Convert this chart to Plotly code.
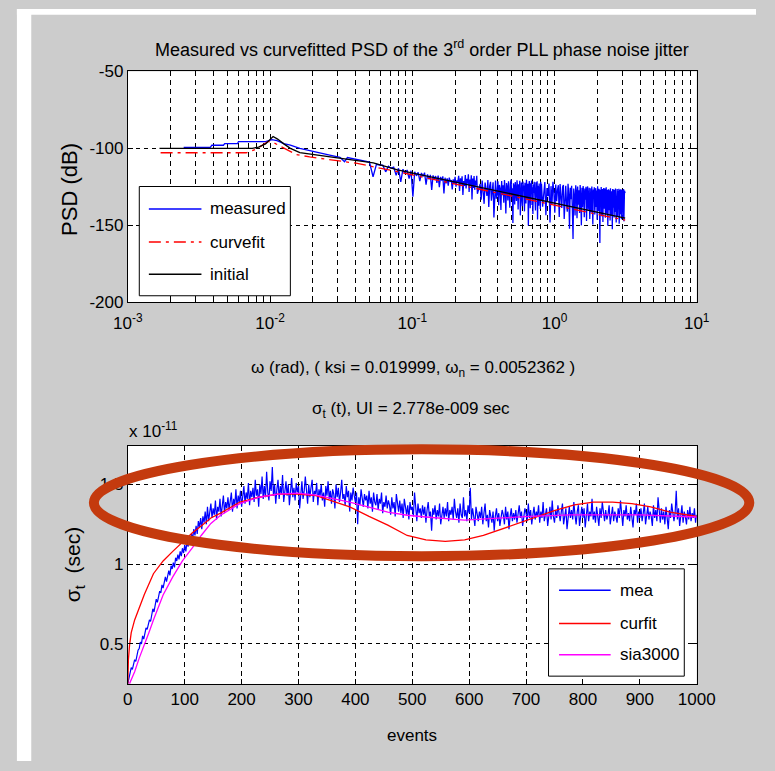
import numpy as np
import plotly.graph_objects as go

W, H = 775, 771
def X(px): return px / W
def Y(py): return 1 - py / H

FONT = "Liberation Sans, Arial, Helvetica, sans-serif"

# ---------------- top panel: PSD (dB) vs omega (rad) ----------------
w_low = [0.00247, 0.0038, 0.0039, 0.0047, 0.0048, 0.0059, 0.0060, 0.0093, 0.0103, 0.0112,
         0.0125, 0.0139, 0.0162, 0.020, 0.0258, 0.031, 0.0334, 0.035, 0.041, 0.046]
psd_low = [-99.4, -99.4, -98.0, -98.0, -97.0, -97.0, -95.6, -95.6, -94.3, -95.0,
           -97.0, -98.0, -100.0, -101.7, -104.2, -105.9, -108.7, -106.0, -107.4, -108.0]

# uniformly sampled bins: 0.050 ... 0.287 rad
w_mid_start, w_mid_step = 0.050, 0.003
psd_mid = [-108.9, -118.5, -110.4, -110.9, -111.0, -115.3, -111.6, -112.9, -112.2, -117.5,
           -113.0, -121.8, -113.6, -116.2, -114.1, -119.7, -114.6, -131.5, -115.2, -117.9,
           -115.6, -121.3, -116.0, -118.4, -115.8, -123.6, -116.9, -120.2, -117.3, -127.1,
           -117.6, -119.9, -118.0, -122.5, -117.8, -125.2, -118.6, -121.0, -118.2, -129.4,
           -119.1, -122.8, -119.5, -124.3, -119.0, -121.7, -120.6, -126.8, -120.2, -123.1,
           -118.6, -124.9, -120.8, -122.0, -117.9, -127.7, -119.5, -123.6, -118.2, -130.3,
           -121.2, -124.5, -117.4, -126.1, -119.8, -123.0, -116.9, -128.4, -120.3, -124.7,
           -117.5, -133.2, -119.6, -125.8, -118.1, -127.0, -120.9, -124.2, -117.8, -129.6]

# uniformly sampled bins: 0.300 ... 0.805 rad
w_band1_start, w_band1_step = 0.300, 0.005
psd_band1 = [-123.2, -133.5, -121.0, -128.4, -136.1, -122.3, -126.7, -131.0, -120.6, -138.2,
             -124.5, -121.8, -134.0, -127.3, -122.1, -145.0, -125.6, -120.9, -132.8, -129.1,
             -121.4, -137.0, -123.8, -126.2, -140.1, -121.2, -130.5, -124.0, -135.4, -120.7,
             -127.9, -142.3, -122.6, -125.1, -133.9, -121.5, -129.4, -138.6, -123.1, -120.4,
             -131.7, -126.0, -148.5, -122.8, -124.7, -136.5, -121.9, -128.3, -134.2, -120.8,
             -125.9, -139.8, -123.4, -130.1, -121.1, -143.6, -126.5, -122.2, -132.4, -137.7,
             -121.6, -127.1, -124.2, -141.0, -122.4, -129.8, -135.9, -120.5, -126.8, -133.0,
             -123.0, -150.2, -124.8, -121.3, -131.2, -138.9, -122.7, -127.6, -121.0, -136.8,
             -125.3, -142.7, -123.6, -129.0, -121.7, -134.7, -126.1, -140.4, -122.0, -128.6,
             -132.1, -121.4, -146.3, -124.3, -127.4, -137.3, -122.9, -130.8, -125.0, -139.5,
             -121.8, -133.6]

# uniformly sampled bins: 0.810 ... 3.135 rad
w_band2_start, w_band2_step = 0.810, 0.015
psd_band2 = [-123.1, -137.9, -129.2, -122.0, -143.5, -125.8,
             -131.0, -122.9, -148.2, -124.6, -136.3, -121.7, -128.8, -141.9, -123.5, -134.4,
             -126.9, -124.0, -144.7, -123.2, -131.6, -138.8, -125.1, -123.8, -146.0, -128.5,
             -124.4, -135.9, -141.2, -123.0, -129.7, -152.3, -125.6, -133.1, -124.3, -139.5,
             -159.0, -126.2, -130.8, -143.6, -124.1, -128.0, -145.4, -124.9, -136.7, -127.3,
             -142.0, -123.9, -131.9, -150.1, -125.7, -138.3, -124.5, -129.6, -144.8, -126.1,
             -133.4, -125.0, -147.3, -127.4, -124.8, -139.9, -131.2, -125.6, -145.9, -128.7,
             -126.0, -141.5, -124.9, -135.3, -149.6, -126.8, -130.4, -125.3, -143.0, -132.7,
             -125.9, -138.1, -127.5, -146.4, -124.7, -134.0, -140.8, -126.3, -129.1, -161.5,
             -127.0, -136.4, -125.2, -144.1, -131.7, -126.5, -147.9, -128.3, -125.8, -139.3,
             -133.5, -126.1, -145.2, -129.8, -125.4, -142.6, -137.0, -126.9, -150.4, -128.0,
             -126.6, -140.3, -131.4, -127.2, -146.9, -126.0, -135.8, -143.7, -127.9, -130.5,
             -152.6, -126.4, -138.7, -128.6, -126.8, -145.0, -132.9, -127.1, -141.4, -126.2,
             -136.1, -148.3, -127.6, -130.0, -126.5, -144.4, -133.2, -127.8, -139.7, -126.3,
             -149.1, -128.9, -134.6, -127.0, -142.8, -126.7, -131.3, -146.1, -128.1, -126.9,
             -138.4, -127.3, -144.9, -130.7, -126.4, -147.5, -135.4, -127.5, -141.1, -129.2]

w_fit = [0.0017, 0.0068, 0.0080, 0.0088, 0.0097, 0.0107, 0.0120, 0.0132, 0.0152, 0.019,
         0.0245, 0.041, 0.0787, 0.15, 0.3, 0.6, 1.2, 2.0, 3.14]
psd_fit = [-102.9, -102.9, -100.5, -98.0, -95.5, -96.5, -99.0, -101.0, -104.0, -105.6,
           -107.0, -109.8, -115.2, -120.8, -126.7, -132.6, -138.5, -142.9, -146.7]

w_init = [0.00167, 0.0075, 0.0083, 0.0093, 0.0105, 0.0113, 0.0125, 0.0139, 0.0162, 0.020,
          0.0286, 0.041, 0.0532, 0.0787, 0.15, 0.3, 0.6, 1.2, 2.0, 3.14]
psd_init = [-100.0, -100.0, -99.2, -97.1, -92.3, -94.0, -97.1, -100.0, -102.8, -104.0,
            -106.2, -108.1, -109.5, -114.0, -119.5, -125.4, -131.3, -137.2, -141.6, -145.4]

# ---------------- bottom panel: sigma_t (x1e-11 s) vs events ----------------
event_step = 2
sigma_mea = [
    0.25, 0.29, 0.31, 0.35, 0.34, 0.38, 0.40, 0.39, 0.44, 0.46,
    0.47, 0.51, 0.50, 0.55, 0.53, 0.58, 0.60, 0.59, 0.63, 0.65,
    0.64, 0.69, 0.72, 0.70, 0.75, 0.78, 0.76, 0.81, 0.83, 0.82,
    0.87, 0.85, 0.90, 0.92, 0.89, 0.94, 0.96, 0.93, 0.99, 0.97,
    1.01, 0.98, 1.04, 1.02, 1.06, 1.03, 1.08, 1.05, 1.10, 1.07,
    1.12, 1.08, 1.14, 1.11, 1.17, 1.13, 1.19, 1.16, 1.22, 1.18,
    1.24, 1.19, 1.27, 1.23, 1.29, 1.22, 1.30, 1.26, 1.33, 1.25,
    1.36, 1.27, 1.33, 1.38, 1.29, 1.35, 1.31, 1.40, 1.28, 1.36,
    1.33, 1.41, 1.30, 1.38, 1.43, 1.32, 1.39, 1.35, 1.42, 1.34,
    1.40, 1.45, 1.33, 1.41, 1.37, 1.47, 1.35, 1.43, 1.39, 1.46,
    1.36, 1.44, 1.49, 1.38, 1.45, 1.41, 1.51, 1.37, 1.46, 1.42,
    1.48, 1.39, 1.53, 1.43, 1.47, 1.36, 1.50, 1.44, 1.55, 1.41,
    1.49, 1.42, 1.58, 1.45, 1.40, 1.52, 1.46, 1.61, 1.43, 1.50,
    1.38, 1.47, 1.53, 1.41, 1.49, 1.44, 1.56, 1.39, 1.48, 1.52,
    1.43, 1.50, 1.37, 1.46, 1.54, 1.42, 1.48, 1.40, 1.51, 1.45,
    1.49, 1.35, 1.47, 1.52, 1.41, 1.46, 1.55, 1.43, 1.38, 1.50,
    1.42, 1.48, 1.53, 1.39, 1.46, 1.44, 1.51, 1.37, 1.47, 1.43,
    1.50, 1.40, 1.45, 1.36, 1.49, 1.43, 1.52, 1.41, 1.46, 1.38,
    1.47, 1.44, 1.35, 1.50, 1.42, 1.48, 1.39, 1.45, 1.53, 1.41,
    1.44, 1.37, 1.49, 1.42, 1.46, 1.33, 1.45, 1.40, 1.48, 1.43,
    1.39, 1.45, 1.25, 1.42, 1.37, 1.47, 1.41, 1.36, 1.44, 1.40,
    1.43, 1.35, 1.46, 1.38, 1.42, 1.33, 1.45, 1.39, 1.37, 1.44,
    1.34, 1.41, 1.38, 1.45, 1.32, 1.39, 1.36, 1.43, 1.35, 1.40,
    1.37, 1.31, 1.42, 1.35, 1.39, 1.30, 1.44, 1.36, 1.33, 1.40,
    1.32, 1.38, 1.29, 1.41, 1.35, 1.31, 1.37, 1.28, 1.39, 1.34,
    1.36, 1.30, 1.45, 1.33, 1.27, 1.38, 1.32, 1.35, 1.29, 1.37,
    1.31, 1.36, 1.26, 1.34, 1.39, 1.30, 1.33, 1.21, 1.35, 1.31,
    1.37, 1.28, 1.34, 1.30, 1.38, 1.25, 1.33, 1.36, 1.29, 1.35,
    1.30, 1.39, 1.27, 1.34, 1.31, 1.36, 1.28, 1.41, 1.33, 1.29,
    1.35, 1.26, 1.38, 1.31, 1.29, 1.42, 1.30, 1.34, 1.27, 1.37,
    1.32, 1.48, 1.28, 1.35, 1.30, 1.24, 1.36, 1.31, 1.27, 1.33,
    1.29, 1.36, 1.25, 1.32, 1.38, 1.27, 1.31, 1.23, 1.34, 1.30,
    1.26, 1.33, 1.21, 1.30, 1.35, 1.27, 1.32, 1.24, 1.29, 1.34,
    1.31, 1.25, 1.36, 1.28, 1.33, 1.22, 1.30, 1.35, 1.27, 1.32,
    1.28, 1.34, 1.26, 1.31, 1.37, 1.29, 1.33, 1.24, 1.30, 1.35,
    1.32, 1.27, 1.38, 1.29, 1.34, 1.25, 1.31, 1.36, 1.28, 1.33,
    1.30, 1.37, 1.26, 1.33, 1.29, 1.39, 1.27, 1.32, 1.35, 1.24,
    1.31, 1.36, 1.28, 1.40, 1.30, 1.26, 1.34, 1.29, 1.37, 1.32,
    1.27, 1.33, 1.38, 1.25, 1.31, 1.35, 1.22, 1.32, 1.36, 1.29,
    1.34, 1.28, 1.39, 1.31, 1.25, 1.33, 1.37, 1.24, 1.30, 1.36,
    1.29, 1.35, 1.23, 1.32, 1.38, 1.27, 1.33, 1.30, 1.41, 1.28,
    1.33, 1.26, 1.36, 1.30, 1.24, 1.35, 1.29, 1.39, 1.31, 1.27,
    1.34, 1.28, 1.31, 1.37, 1.25, 1.32, 1.36, 1.27, 1.33, 1.30,
    1.26, 1.35, 1.29, 1.40, 1.31, 1.24, 1.34, 1.30, 1.37, 1.28,
    1.32, 1.27, 1.36, 1.30, 1.23, 1.34, 1.31, 1.38, 1.26, 1.33,
    1.29, 1.35, 1.27, 1.32, 1.38, 1.25, 1.31, 1.36, 1.28, 1.33,
    1.30, 1.24, 1.37, 1.29, 1.34, 1.27, 1.42, 1.31, 1.26, 1.35,
    1.28, 1.33, 1.25, 1.36, 1.30, 1.22, 1.34, 1.29, 1.38, 1.31,
    1.27, 1.32, 1.46, 1.28, 1.35, 1.24, 1.31, 1.37, 1.26, 1.33,
    1.30, 1.25, 1.34, 1.28, 1.36, 1.27, 1.32, 1.29, 1.35, 1.26,
    1.31]

ev_fit = [0, 1, 3, 6, 12, 20, 29, 45, 62, 79, 96, 113, 129, 146, 163, 197, 230, 264, 297, 331,
          356, 390, 424, 457, 491, 524, 558, 592, 625, 653, 684, 718, 751, 785, 818, 852, 886,
          919, 953, 987, 1000]
sigma_fit = [0.25, 0.40, 0.49, 0.57, 0.65, 0.73, 0.81, 0.94, 1.02, 1.08, 1.14, 1.195, 1.24, 1.29,
             1.32, 1.39, 1.42, 1.44, 1.44, 1.43, 1.40, 1.36, 1.30, 1.245, 1.18, 1.153, 1.143,
             1.153, 1.18, 1.215, 1.25, 1.296, 1.337, 1.372, 1.39, 1.39, 1.38, 1.36, 1.327, 1.307,
             1.30]

ev_sia = [3, 12, 20, 29, 37, 45, 54, 62, 79, 96, 113, 129, 146, 163, 197, 230, 264, 297, 331,
          390, 457, 491, 524, 592, 659, 706, 778, 817, 901, 1000]
sigma_sia = [0.25, 0.325, 0.41, 0.49, 0.57, 0.65, 0.73, 0.806, 0.92, 1.02, 1.10, 1.18, 1.256,
             1.307, 1.38, 1.42, 1.44, 1.446, 1.434, 1.39, 1.327, 1.307, 1.296, 1.276, 1.29, 1.30,
             1.31, 1.31, 1.31, 1.296]

# ---------------- assemble ----------------
def bins(start, step, n):
    return list(np.round(start + step * np.arange(n), 4))

w_meas = (list(w_low) + bins(w_mid_start, w_mid_step, len(psd_mid))
          + bins(w_band1_start, w_band1_step, len(psd_band1))
          + bins(w_band2_start, w_band2_step, len(psd_band2)))
psd_meas = psd_low + psd_mid + psd_band1 + psd_band2
ev_mea = list(np.arange(len(sigma_mea)) * event_step)

DASHDOT = "12px,5px,3px,5px"
fig = go.Figure()
fig.add_trace(go.Scatter(x=w_meas, y=psd_meas, mode="lines", name="measured",
                         line=dict(color="#0000FF", width=1.3), xaxis="x", yaxis="y"))
fig.add_trace(go.Scatter(x=w_fit, y=psd_fit, mode="lines", name="curvefit",
                         line=dict(color="#FF0000", width=1.3, dash=DASHDOT), xaxis="x", yaxis="y"))
fig.add_trace(go.Scatter(x=w_init, y=psd_init, mode="lines", name="initial",
                         line=dict(color="#000000", width=1.3), xaxis="x", yaxis="y"))
fig.add_trace(go.Scatter(x=ev_mea, y=sigma_mea, mode="lines", name="mea",
                         line=dict(color="#0000FF", width=1.2), xaxis="x2", yaxis="y2"))
fig.add_trace(go.Scatter(x=ev_fit, y=sigma_fit, mode="lines", name="curfit",
                         line=dict(color="#FF0000", width=1.3), xaxis="x2", yaxis="y2"))
fig.add_trace(go.Scatter(x=ev_sia, y=sigma_sia, mode="lines", name="sia3000",
                         line=dict(color="#FF00FF", width=1.3), xaxis="x2", yaxis="y2"))

TICKFONT = dict(family=FONT, size=17, color="black")
common = dict(showline=True, linecolor="black", linewidth=1, mirror="allticks",
              ticks="inside", ticklen=5, tickcolor="black", showgrid=True,
              gridcolor="black", gridwidth=1, zeroline=False, tickfont=TICKFONT, tickangle=0)

decade_vals = [0.001, 0.01, 0.1, 1.0, 10.0]
decade_text = ["10<sup>-3</sup>", "10<sup>-2</sup>", "10<sup>-1</sup>", "10<sup>0</sup>", "10<sup>1</sup>"]
minor_vals = [m * 10.0 ** d for d in range(-3, 1) for m in range(2, 10)]

xdom = [X(118), X(713)]
fig.update_layout(
    width=W, height=H, margin=dict(l=0, r=0, t=0, b=0),
    paper_bgcolor="#cccccc", plot_bgcolor="white", showlegend=False,
    xaxis=dict(common, type="log", range=[-3, 1], domain=xdom, anchor="y",
               tickvals=decade_vals, ticktext=decade_text, griddash="5px,4px", ticklabelstandoff=6,
               minor=dict(tickmode="array", tickvals=minor_vals, ticks="inside", ticklen=5,
                          tickcolor="black", showgrid=True, gridcolor="black", gridwidth=1,
                          griddash="5px,4px")),
    yaxis=dict(common, range=[-200, -50], domain=[Y(300.5), Y(64)], anchor="x",
               tickvals=[-200, -150, -100, -50], ticktext=["-200", "-150", "-100", "-50"],
               griddash="4px,4px"),
    xaxis2=dict(common, range=[0, 1000], domain=xdom, anchor="y2",
                tickvals=list(range(0, 1001, 100)), griddash="5px,4px"),
    yaxis2=dict(common, range=[0.248, 1.742], domain=[Y(692), Y(448)], anchor="x2",
                tickvals=[0.5, 1, 1.5], ticktext=["0.5", "1", "1.5"], griddash="4px,4px"),
)

shapes = []
# page strips
shapes.append(dict(type="rect", xref="paper", yref="paper", x0=X(2), x1=X(17), y0=Y(H), y1=Y(0),
                   fillcolor="white", line=dict(width=0), layer="below"))
shapes.append(dict(type="rect", xref="paper", yref="paper", x0=X(2), x1=X(W), y0=Y(6), y1=Y(0),
                   fillcolor="white", line=dict(width=0), layer="below"))

annotations = []
def text(px, py, s, size=17, xanchor="center", yanchor="middle", angle=0):
    annotations.append(dict(x=X(px), y=Y(py), xref="paper", yref="paper", text=s, showarrow=False,
                            xanchor=xanchor, yanchor=yanchor, textangle=angle,
                            font=dict(family=FONT, size=size, color="black")))

# titles / labels
text(426, 40, "Measured vs curvefitted PSD of the 3<sup>rd</sup> order PLL phase noise jitter", size=18)
text(416, 369, "ω (rad), ( ksi = 0.019999, ω<sub>n</sub> = 0.0052362 )")
text(57, 185, "PSD (dB)", size=22, angle=-90)
text(414, 411, "σ<sub>t</sub> (t), UI = 2.778e-009 sec")
text(117, 432, "x 10<sup>-11</sup>", xanchor="left")
text(62, 570, "σ<sub>t</sub>  (sec)", size=21, angle=-90)
text(415, 745, "events")

# legends (drawn manually to match the boxed MATLAB legend)
def legend(box, entries, x_line, x_text, size=17):
    bx0, by0, bx1, by1 = box
    shapes.append(dict(type="rect", xref="paper", yref="paper", x0=X(bx0), x1=X(bx1),
                       y0=Y(by1), y1=Y(by0), fillcolor="white", line=dict(color="black", width=1)))
    for label, color, dash, py in entries:
        shapes.append(dict(type="line", xref="paper", yref="paper", x0=X(x_line[0]), x1=X(x_line[1]),
                           y0=Y(py), y1=Y(py), line=dict(color=color, width=1.5, dash=dash)))
        text(x_text, py, label, size=size, xanchor="left")

legend((130, 182, 288, 294),
       [("measured", "#0000FF", "solid", 205), ("curvefit", "#FF0000", DASHDOT, 239),
        ("initial", "#000000", "solid", 272)], (140, 195), 202)
legend((558, 574, 700, 684),
       [("mea", "#0000FF", "solid", 596), ("curfit", "#FF0000", "solid", 630),
        ("sia3000", "#FF00FF", "solid", 662)], (569, 623), 631)

# highlight ellipse
shapes.append(dict(type="circle", xref="paper", yref="paper", x0=X(82.5), x1=X(768),
                   y0=Y(561), y1=Y(451.5), line=dict(color="#C43A0E", width=10), layer="above"))

fig.update_layout(shapes=shapes, annotations=annotations)
fig.write_html("out.html", config={"displayModeBar": False},
               post_script="document.body.style.margin='0';document.body.style.padding='0';"
                           "document.documentElement.style.overflow='hidden';")
